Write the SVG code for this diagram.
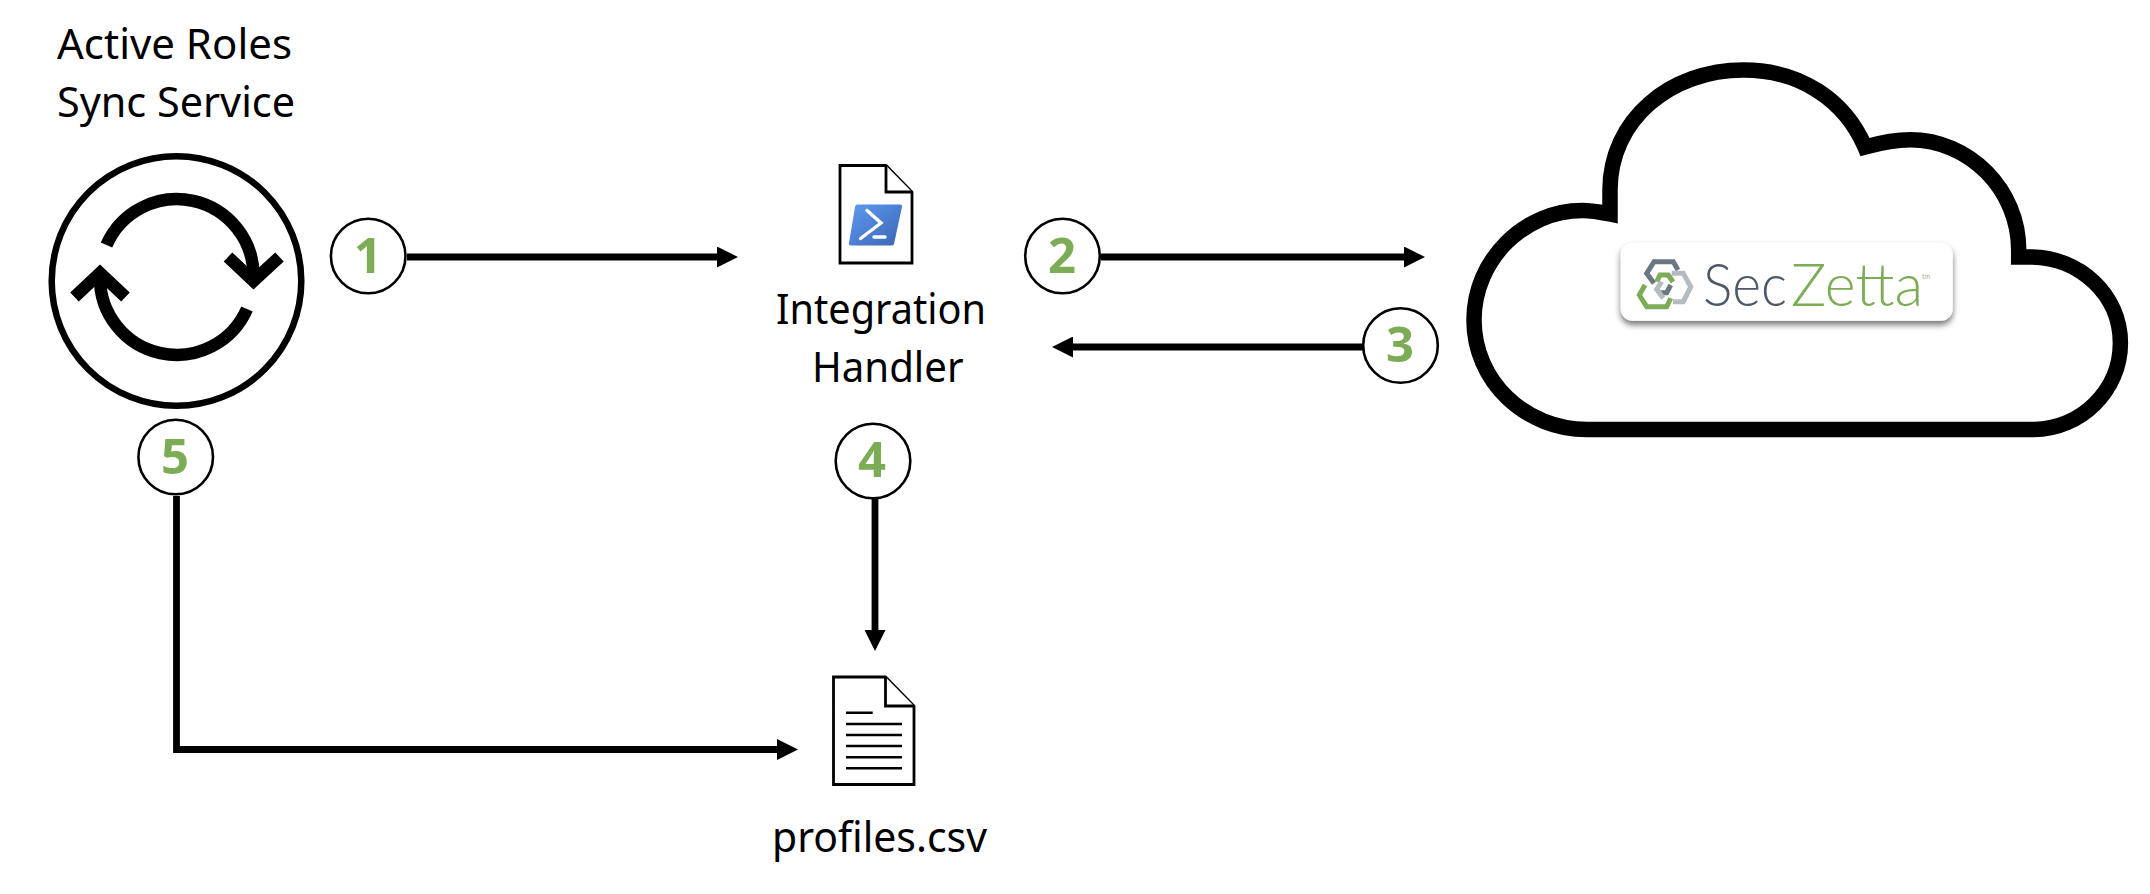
<svg xmlns="http://www.w3.org/2000/svg" width="2150" height="894" viewBox="0 0 2150 894">
<style>
.lbl{font-family:"Noto Sans","Open Sans","Liberation Sans",sans-serif;font-size:42px;fill:#000}
.num{font-family:"Open Sans","Noto Sans","Liberation Sans",sans-serif;font-size:49px;font-weight:700;fill:#7cac56;text-anchor:middle}
.step{fill:#fff;stroke:#000;stroke-width:2.6}
.conn{fill:none;stroke:#000;stroke-width:6.8;stroke-linejoin:miter}
.doc{fill:#fff;stroke:#000;stroke-width:2.8;stroke-linejoin:miter}
.rule{stroke:#000;stroke-width:2.6;fill:none}
.sync{fill:none;stroke:#000;stroke-width:12.5;stroke-linejoin:miter;stroke-miterlimit:10}
.logo{fill:none;stroke-width:5;stroke-linejoin:miter}
.wm{font-family:"Lato","Open Sans",sans-serif;font-weight:300;font-size:60px}
</style>
<defs>
<marker id="head" markerUnits="userSpaceOnUse" markerWidth="21" markerHeight="21" refX="0" refY="10.5" orient="auto" viewBox="0 0 21 21"><path d="M0,0L21,10.5L0,21Z" fill="#000"/></marker>
<linearGradient id="ps" x1="0" y1="0" x2="1" y2="1"><stop offset="0" stop-color="#5f9bf2"/><stop offset="1" stop-color="#3a65b3"/></linearGradient>
<filter id="shadow" x="-5%" y="-10%" width="110%" height="130%"><feDropShadow dx="0" dy="4" stdDeviation="3" flood-color="#000" flood-opacity="0.55"/></filter>
</defs>
<g id="connectors">
<path class="conn" d="M407,257H717" marker-end="url(#head)"/>
<path class="conn" d="M1101,257H1404" marker-end="url(#head)"/>
<path class="conn" d="M1363,347H1073" marker-end="url(#head)"/>
<path class="conn" d="M875,499V630" marker-end="url(#head)"/>
<path class="conn" d="M176.5,496V749.5H777" marker-end="url(#head)"/>
</g>
<g id="sync-service">
<circle cx="176.5" cy="281" r="124.8" fill="#fff" stroke="#000" stroke-width="6.5"/>
<path class="sync" d="M106.5,245A76.75,76.75 0 0 1 253.5,277"/>
<path class="sync" d="M228,257L253.5,281L279.5,257"/>
<path class="sync" d="M247,309A76.75,76.75 0 0 1 100,277"/>
<path class="sync" d="M125.5,297L100,273L74.5,297"/>
<text class="lbl" x="57" y="59" textLength="235" lengthAdjust="spacingAndGlyphs">Active Roles</text>
<text class="lbl" x="57" y="117" textLength="238" lengthAdjust="spacingAndGlyphs">Sync Service</text>
</g>
<g id="integration-handler">
<path class="doc" d="M840,165.5H886L912,192V263H840Z"/>
<path class="doc" d="M886,165.5V192H912"/>
<path d="M857,204.5H900Q902.500,204.500 902,207L894,244Q893.500,245.500 892,245.500H851Q848.500,245.500 849,243L855,207Q855.500,204.500 857,204.500Z" fill="url(#ps)"/>
<path d="M867,210.500L881,223L860.500,238.500" fill="none" stroke="#fff" stroke-width="3.400" stroke-linecap="round"/>
<path d="M874,237H885" fill="none" stroke="#fff" stroke-width="3.400" stroke-linecap="round"/>
<text class="lbl" x="776" y="324" textLength="210" lengthAdjust="spacingAndGlyphs">Integration</text>
<text class="lbl" x="812" y="382" textLength="151.500" lengthAdjust="spacingAndGlyphs">Handler</text>
</g>
<g id="seczetta-cloud">
<path d="M1587,429.500C1525,429.500 1474,381 1474,320C1474,259 1525,210.500 1582,210.500C1592,210.500 1600,212 1610,214V190C1610,120 1670,70 1743.700,70C1800,70 1845,100 1865,147C1880,143 1895,139.800 1910,139.800C1970,139.800 2018.700,190 2018.700,250V257H2030C2080,257 2120.400,295 2120.400,343C2120.400,391 2080,429.500 2034,429.500Z" fill="#fff" stroke="#000" stroke-width="15.500" stroke-linejoin="miter" stroke-miterlimit="6"/>
<rect x="1620.700" y="242.700" width="332" height="78" rx="12" fill="#fff" filter="url(#shadow)"/>
<path class="logo" stroke="#6b7783" d="M1654,283.300L1646.700,273.300L1654,261.700H1673.300L1678,270"/>
<path class="logo" stroke="#6b7783" d="M1658.300,292.700H1666.700L1670.700,285"/>
<path class="logo" stroke="#7cac56" d="M1645,285L1639.300,295L1646.700,306.700H1666.700L1670.700,298.300"/>
<path class="logo" stroke="#7cac56" d="M1656.700,281.700L1660,275H1668.300L1673,282"/>
<path class="logo" stroke="#b4bcc2" d="M1671.700,273.300H1683.300L1690.700,286.700L1683.300,301.700H1673"/>
<path class="logo" stroke="#b4bcc2" d="M1661.700,281.700L1656.700,289.300L1663.300,298.300"/>
<text class="wm" x="1703" y="306" fill="#4c5a67" textLength="84" lengthAdjust="spacingAndGlyphs">Sec</text>
<text class="wm" x="1791" y="306" fill="#7cac56" textLength="132" lengthAdjust="spacingAndGlyphs">Zetta</text>
<text x="1922" y="279" font-family="Lato,sans-serif" font-size="7" fill="#a9b0a6">tm</text>
</g>
<g id="profiles-csv">
<path class="doc" d="M833.500,677H885.500L914,706V784.500H833.500Z"/>
<path class="doc" d="M885.500,677V706H914"/>
<path class="rule" d="M846,712.700H872.700M846,724H902M846,735H902M846,746H902M846,757.300H902M846,768.300H902"/>
<text class="lbl" x="772" y="851.700" textLength="215" lengthAdjust="spacingAndGlyphs">profiles.csv</text>
</g>
<g id="step-1"><circle class="step" cx="368.200" cy="256" r="37.300"/><text class="num" x="368" y="272.500">1</text></g>
<g id="step-2"><circle class="step" cx="1062.500" cy="256" r="37.300"/><text class="num" x="1062" y="273">2</text></g>
<g id="step-3"><circle class="step" cx="1400.500" cy="345.500" r="37.300"/><text class="num" x="1400" y="361.700">3</text></g>
<g id="step-4"><circle class="step" cx="873" cy="461" r="37.300"/><text class="num" x="872" y="477">4</text></g>
<g id="step-5"><circle class="step" cx="175.700" cy="457" r="37.300"/><text class="num" x="175" y="474">5</text></g>
</svg>
